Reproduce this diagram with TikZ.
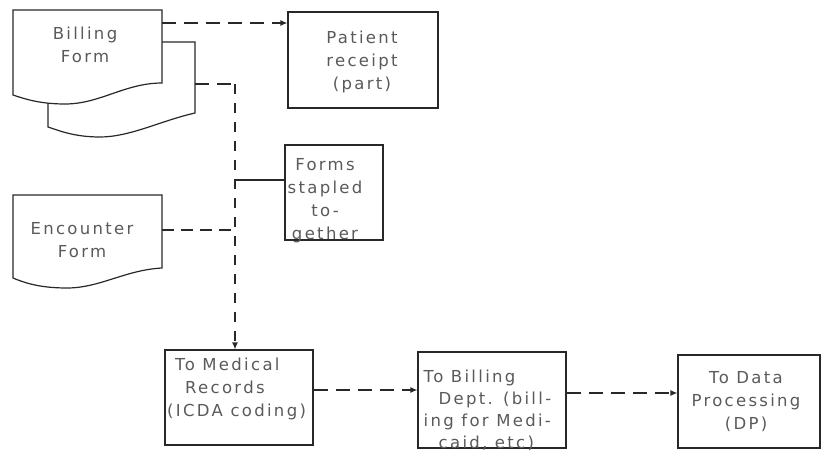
\documentclass[tikz,border=0pt]{standalone}
\usepackage{fontspec}
\usetikzlibrary{arrows.meta}
\newfontfamily\lettering{DejaVu Sans}[LetterSpace=14]
\definecolor{ink}{RGB}{40,40,40}
\definecolor{textink}{RGB}{90,90,90}
\tikzset{
  outline/.style={draw=ink, line width=1.2pt, fill=white},
  box/.style={outline, rectangle, inner sep=0pt},
  txt/.style={font=\lettering\fontsize{16.5}{23}\selectfont, text=textink, inner sep=0pt, align=center},
  dashline/.style={draw=ink, line width=1.2pt, dash pattern=on 14pt off 8pt},
  vdash/.style={draw=ink, line width=1.2pt, dash pattern=on 10pt off 9pt},
  solidline/.style={draw=ink, line width=1.2pt},
  tip/.style={-{Latex[length=7pt,width=6pt]}}
}
\begin{document}
\begin{tikzpicture}[x=1pt,y=-1pt]
\useasboundingbox (0,0) rectangle (821,452);
\fill[white] (0,0) rectangle (821,452);

% Billing form: back sheet, then front sheet
\path[outline] (48,42) -- (195,42) -- (195,113)
  .. controls (160,121) and (130,137) .. (100,137)
  .. controls (75,137) and (60,131) .. (48,127) -- cycle;
\path[outline] (13,10) -- (162,10) -- (162,83)
  .. controls (125,83) and (100,104) .. (65,104)
  .. controls (40,104) and (25,99) .. (13,95) -- cycle;
\node[txt] (billingtxt) at (85,45) {Billing\\Form};

% Encounter form
\path[outline] (13,195) -- (162,195) -- (162,268)
  .. controls (125,270) and (100,288) .. (67,288)
  .. controls (40,288) and (25,283) .. (13,278) -- cycle;
\node[txt] (encountertxt) at (82,240) {Encounter\\Form};

% Boxes
\node[box, minimum width=150pt, minimum height=96pt] (patient) at (363,60) {};
\node[txt] (patienttxt) at (362,62) {Patient\\receipt\\(part)};

\node[box, minimum width=98pt, minimum height=95pt] (forms) at (334,192.5) {};
\node[txt] (formstxt) at (325,201) {Forms\\stapled\\to-\\gether};

\node[box, minimum width=148pt, minimum height=95pt] (medrec) at (239,397.5) {};
\node[txt, align=left, anchor=west] (medrectxt) at (167,389) {\hspace*{8pt}To Medical\\\hspace*{18pt}Records\\(ICDA coding)};

\node[box, minimum width=148pt, minimum height=96pt] (billdept) at (492,400) {};
\node[txt, align=left, anchor=west, font=\lettering\fontsize{16.5}{22}\selectfont] (billdepttxt) at (423.5,410) {To Billing\\\hspace*{15pt}Dept. (bill-\\ing for Medi-\\\hspace*{15pt}caid, etc)};

\node[box, minimum width=142pt, minimum height=93pt] (dp) at (749,401.5) {};
\node[txt] (dptxt) at (746,402) {To Data\\Processing\\(DP)};

% Connector anchor points on the forms and the trunk line
\coordinate (bfront) at (162,23);
\coordinate (bback) at (195,84);
\coordinate (trunktop) at (235,84);
\coordinate (enc) at (162,230);
\coordinate (encjoin) at (235,230);
\coordinate (staple) at (235,180);

% Connectors
\draw[dashline, tip] (bfront) -- (bfront -| patient.west);
\draw[dashline] (bback) -- (trunktop);
\draw[vdash, tip] (trunktop) -- (trunktop |- medrec.north);
\draw[dashline, dash pattern=on 12pt off 7pt] (enc) -- (encjoin);
\draw[solidline] (staple) -- (staple -| forms.west);
\draw[dashline, tip] ([yshift=7.5pt]medrec.east) -- ([yshift=7.5pt]medrec.east -| billdept.west);
\draw[dashline, tip] ([yshift=7pt]billdept.east) -- ([yshift=7pt]billdept.east -| dp.west);
\end{tikzpicture}
\end{document}
